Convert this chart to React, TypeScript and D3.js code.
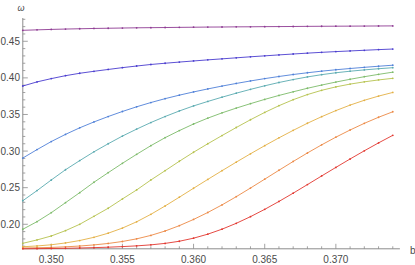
import * as d3 from 'd3';

// b grid (x) and ω values for each curve
const bValues = [
  0.348, 0.349, 0.350, 0.351, 0.352, 0.353, 0.354, 0.355, 0.356, 0.357,
  0.358, 0.359, 0.360, 0.361, 0.362, 0.363, 0.364, 0.365, 0.366, 0.367,
  0.368, 0.369, 0.370, 0.371, 0.372, 0.373, 0.374,
];

const omegaPurple = [
  0.4650, 0.4656, 0.4662, 0.4667, 0.4671, 0.4675, 0.4678, 0.4681, 0.4684, 0.4686,
  0.4688, 0.4690, 0.4692, 0.4694, 0.4695, 0.4697, 0.4698, 0.4700, 0.4701, 0.4702,
  0.4704, 0.4705, 0.4706, 0.4707, 0.4708, 0.4709, 0.4710,
];
const omegaViolet = [
  0.3889, 0.3945, 0.3990, 0.4030, 0.4063, 0.4090, 0.4115, 0.4140, 0.4162, 0.4183,
  0.4200, 0.4216, 0.4231, 0.4246, 0.4260, 0.4274, 0.4288, 0.4301, 0.4314, 0.4326,
  0.4338, 0.4349, 0.4359, 0.4368, 0.4377, 0.4386, 0.4394,
];
const omegaBlue = [
  0.2905, 0.3020, 0.3130, 0.3228, 0.3318, 0.3398, 0.3472, 0.3541, 0.3605, 0.3663,
  0.3716, 0.3764, 0.3808, 0.3849, 0.3888, 0.3924, 0.3958, 0.3990, 0.4019, 0.4046,
  0.4070, 0.4092, 0.4111, 0.4128, 0.4144, 0.4159, 0.4173,
];
const omegaTeal = [
  0.2322, 0.2460, 0.2605, 0.2745, 0.2870, 0.2990, 0.3100, 0.3205, 0.3300, 0.3390,
  0.3472, 0.3548, 0.3617, 0.3678, 0.3736, 0.3791, 0.3843, 0.3892, 0.3937, 0.3977,
  0.4013, 0.4044, 0.4070, 0.4091, 0.4109, 0.4125, 0.4139,
];
const omegaGreen = [
  0.1932, 0.2036, 0.2158, 0.2295, 0.2432, 0.2574, 0.2705, 0.2833, 0.2956, 0.3074,
  0.3183, 0.3280, 0.3370, 0.3450, 0.3522, 0.3587, 0.3648, 0.3706, 0.3760, 0.3810,
  0.3858, 0.3902, 0.3943, 0.3981, 0.4016, 0.4048, 0.4078,
];
const omegaLime = [
  0.1740, 0.1786, 0.1840, 0.1913, 0.2000, 0.2109, 0.2219, 0.2346, 0.2469, 0.2605,
  0.2732, 0.2861, 0.2984, 0.3100, 0.3212, 0.3322, 0.3428, 0.3528, 0.3620, 0.3702,
  0.3772, 0.3830, 0.3877, 0.3915, 0.3946, 0.3972, 0.3994,
];
const omegaGold = [
  0.1693, 0.1704, 0.1720, 0.1745, 0.1778, 0.1822, 0.1878, 0.1948, 0.2034, 0.2136,
  0.2250, 0.2370, 0.2492, 0.2613, 0.2732, 0.2849, 0.2963, 0.3074, 0.3181, 0.3283,
  0.3380, 0.3470, 0.3553, 0.3628, 0.3694, 0.3751, 0.3801,
];
const omegaOrange = [
  0.1676, 0.1679, 0.1684, 0.1692, 0.1703, 0.1718, 0.1738, 0.1765, 0.1801, 0.1848,
  0.1908, 0.1981, 0.2066, 0.2161, 0.2265, 0.2377, 0.2495, 0.2616, 0.2738, 0.2858,
  0.2974, 0.3085, 0.3190, 0.3288, 0.3379, 0.3462, 0.3537,
];
const omegaRed = [
  0.1665, 0.1667, 0.1669, 0.1672, 0.1676, 0.1681, 0.1687, 0.1695, 0.1705, 0.1719,
  0.1739, 0.1768, 0.1810, 0.1865, 0.1933, 0.2013, 0.2104, 0.2204, 0.2312, 0.2425,
  0.2542, 0.2660, 0.2777, 0.2892, 0.3004, 0.3112, 0.3215,
];

const seriesList = [
  omegaPurple, omegaViolet, omegaBlue, omegaTeal, omegaGreen,
  omegaLime, omegaGold, omegaOrange, omegaRed,
];
const seriesColors = [
  '#8e3b93', '#4a3ccf', '#4f80d8', '#5aaab0', '#7dbb6a',
  '#b6c24e', '#e3b045', '#ec8945', '#e2372f',
];

const xMajorTicks = [0.350, 0.355, 0.360, 0.365, 0.370];
const yMajorTicks = [0.20, 0.25, 0.30, 0.35, 0.40, 0.45];

const W = 415;
const H = 265;

export default function App() {
  const x = d3.scaleLinear().domain([0.348, 0.3745]).range([22.8, 399.9]);
  const y = d3.scaleLinear().domain([0.1665, 0.4818]).range([248.8, 18]);

  const line = d3.line<number>()
    .x((_, i) => x(bValues[i]))
    .y(d => y(d));

  const xMinor = d3.range(349, 375).map(k => k / 1000);
  const yMinor = d3.range(17, 49).map(k => k / 100);
  const axisColor = '#8c8c8c';
  const labelColor = '#4a4a4a';
  const font = 'Liberation Sans, Arial, sans-serif';

  return (
    <svg width={W} height={H} style={{ position: 'absolute', left: 0, top: 0, background: '#fff' }}>
      {/* axes */}
      <line x1={x(0.348)} x2={x(0.3745)} y1={y(0.1665)} y2={y(0.1665)} stroke={axisColor} strokeWidth={1} />
      <line x1={x(0.348)} x2={x(0.348)} y1={y(0.1665)} y2={y(0.4818)} stroke={axisColor} strokeWidth={1} />

      {xMinor.map(t => {
        const major = xMajorTicks.some(m => Math.abs(m - t) < 1e-9);
        return (
          <line key={'xt' + t} x1={x(t)} x2={x(t)} y1={y(0.1665)} y2={y(0.1665) - (major ? 5 : 2.5)}
            stroke={axisColor} strokeWidth={0.8} />
        );
      })}
      {yMinor.map(t => {
        const major = yMajorTicks.some(m => Math.abs(m - t) < 1e-9);
        return (
          <line key={'yt' + t} x1={x(0.348)} x2={x(0.348) + (major ? 5 : 2.5)} y1={y(t)} y2={y(t)}
            stroke={axisColor} strokeWidth={0.8} />
        );
      })}

      {xMajorTicks.map(t => (
        <text key={'xl' + t} x={x(t)} y={263} textAnchor="middle" fontSize={10}
          fontFamily={font} fill={labelColor}>{t.toFixed(3)}</text>
      ))}
      {yMajorTicks.map(t => (
        <text key={'yl' + t} x={20} y={y(t) + 3.5} textAnchor="end" fontSize={10}
          fontFamily={font} fill={labelColor}>{t.toFixed(2)}</text>
      ))}

      <text x={21} y={11} textAnchor="middle" fontSize={9} fontStyle="italic"
        fontFamily={font} fill={labelColor}>ω</text>
      <text x={410} y={253.5} fontSize={10} fontFamily={font} fill={labelColor}>b</text>

      {/* curves */}
      {seriesList.map((s, k) => (
        <g key={'s' + k}>
          <path d={line(s) || ''} fill="none" stroke={seriesColors[k]} strokeWidth={0.9} />
          {s.map((v, i) => (
            <circle key={i} cx={x(bValues[i])} cy={y(v)} r={0.9} fill={seriesColors[k]} />
          ))}
        </g>
      ))}
    </svg>
  );
}
